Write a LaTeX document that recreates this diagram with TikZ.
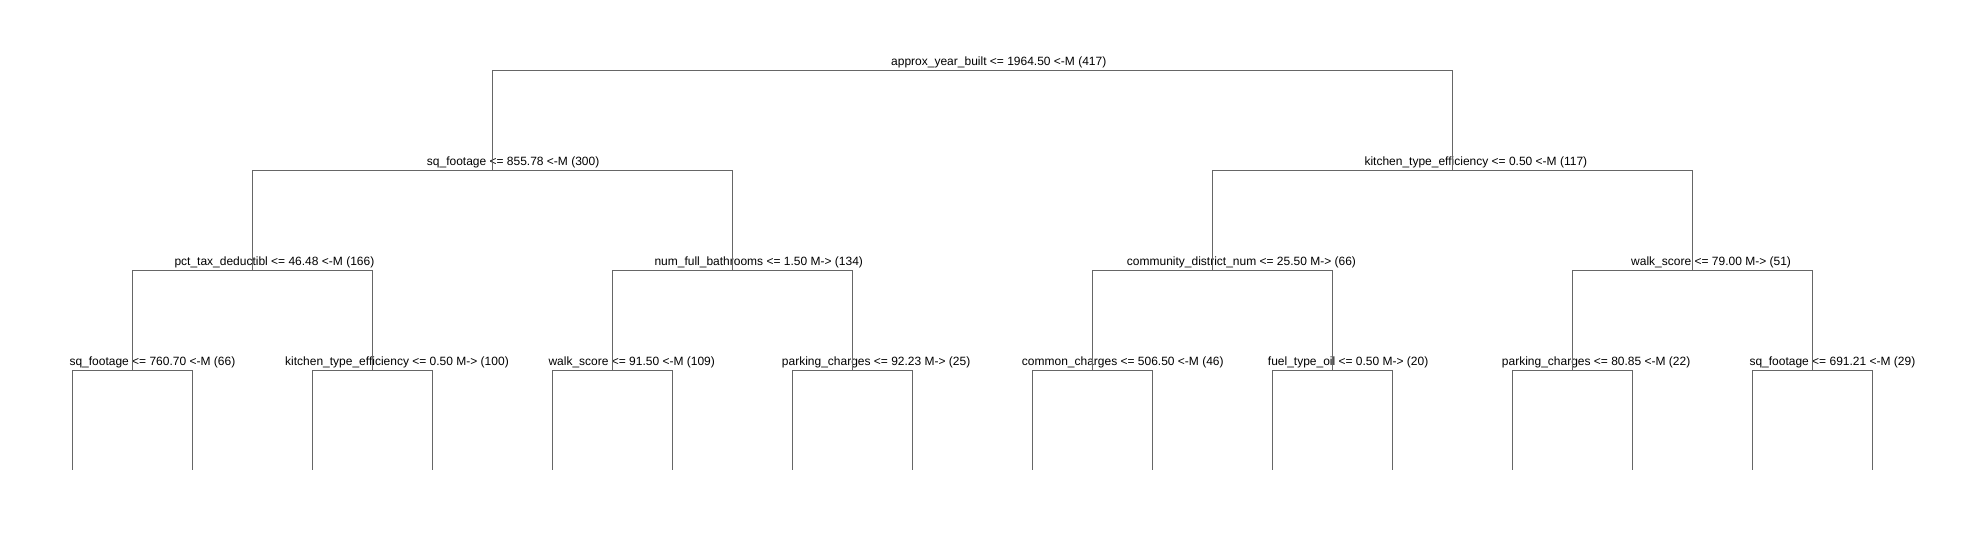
\documentclass[tikz,border=0pt]{standalone}
\usepackage{fontspec}
\setmainfont{Liberation Sans}
\begin{document}
\begin{tikzpicture}[x=1pt,y=-1pt,
  edge/.style={draw=black!60,line width=1pt},
  lbl/.style={anchor=base west,inner sep=0pt,text=black,font=\fontsize{12}{14}\selectfont}]
\fill[white] (0,0) rectangle (1985,540);
\useasboundingbox (0,0) rectangle (1985,540);
% split points
\coordinate (A) at (972.3,70.3);
\coordinate (B) at (492.3,170.3);
\coordinate (C) at (1452.3,170.3);
\coordinate (D) at (252.3,270.3);
\coordinate (E) at (732.3,270.3);
\coordinate (F) at (1212.3,270.3);
\coordinate (G) at (1692.3,270.3);
\coordinate (H) at (132.3,370.3);
\coordinate (I) at (372.3,370.3);
\coordinate (J) at (612.3,370.3);
\coordinate (K) at (852.3,370.3);
\coordinate (L) at (1092.3,370.3);
\coordinate (M) at (1332.3,370.3);
\coordinate (N) at (1572.3,370.3);
\coordinate (O) at (1812.3,370.3);
% leaves
\foreach \p/\x in {H/132.3,I/372.3,J/612.3,K/852.3,L/1092.3,M/1332.3,N/1572.3,O/1812.3}{
  \coordinate (\p l) at (\x-60,470);
  \coordinate (\p r) at (\x+60,470);
}
% labels
\node[lbl] (tA) at (891,65.8) {approx\_year\_built <= 1964.50 <-M (417)};
\node[lbl] (tB) at (426.7,165.8) {sq\_footage <= 855.78 <-M (300)};
\node[lbl] (tC) at (1364.3,165.8) {kitchen\_type\_efficiency <= 0.50 <-M (117)};
\node[lbl] (tD) at (174.3,265.8) {pct\_tax\_deductibl <= 46.48 <-M (166)};
\node[lbl] (tE) at (654.3,265.8) {num\_full\_bathrooms <= 1.50 M-> (134)};
\node[lbl] (tF) at (1126.7,265.8) {community\_district\_num <= 25.50 M-> (66)};
\node[lbl] (tG) at (1631,265.8) {walk\_score <= 79.00 M-> (51)};
\node[lbl] (tH) at (69.3,365.8) {sq\_footage <= 760.70 <-M (66)};
\node[lbl] (tI) at (285,365.8) {kitchen\_type\_efficiency <= 0.50 M-> (100)};
\node[lbl] (tJ) at (548.3,365.8) {walk\_score <= 91.50 <-M (109)};
\node[lbl] (tK) at (781.7,365.8) {parking\_charges <= 92.23 M-> (25)};
\node[lbl] (tL) at (1021.7,365.8) {common\_charges <= 506.50 <-M (46)};
\node[lbl] (tM) at (1267.7,365.8) {fuel\_type\_oil <= 0.50 M-> (20)};
\node[lbl] (tN) at (1501.7,365.8) {parking\_charges <= 80.85 <-M (22)};
\node[lbl] (tO) at (1749.3,365.8) {sq\_footage <= 691.21 <-M (29)};
% connectors
\foreach \p/\c in {A/B,A/C,B/D,B/E,C/F,C/G,D/H,D/I,E/J,E/K,F/L,F/M,G/N,G/O}{
  \draw[edge] (\p) -| (\c);
}
\foreach \p in {H,I,J,K,L,M,N,O}{
  \draw[edge] (\p) -| (\p l);
  \draw[edge] (\p) -| (\p r);
}
\end{tikzpicture}
\end{document}
